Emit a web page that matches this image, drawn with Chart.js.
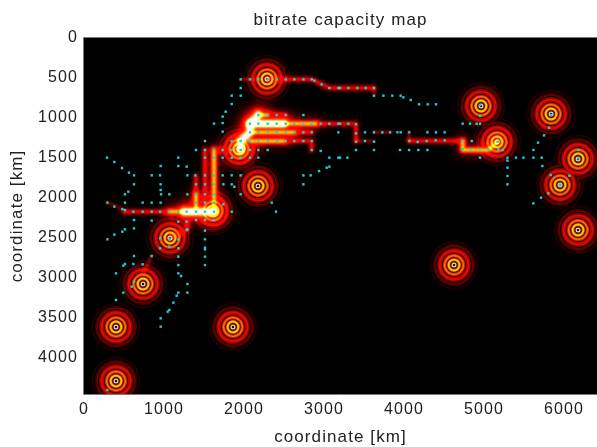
<!DOCTYPE html>
<html>
<head>
<meta charset="utf-8">
<title>bitrate capacity map</title>
<script src="https://cdn.jsdelivr.net/npm/chart.js@4"></script>
<style>
  html, body { margin: 0; padding: 0; background: #fff; }
  #wrap { width: 597px; height: 447px; }
</style>
</head>
<body>
<div id="wrap"><canvas id="map"></canvas></div>
<script>
const titleText = 'bitrate capacity map';
const axisLabel = 'coordinate [km]';
const xTicks = [0, 1000, 2000, 3000, 4000, 5000, 6000];
const yTicks = [0, 500, 1000, 1500, 2000, 2500, 3000, 3500, 4000];

// transmitter sites, km
const siteX = [2288, 4962, 5838, 5162, 6175, 5950, 6175, 4625, 2175, 1938, 1612, 1075, 738, 400, 1862, 400];
const siteY = [512, 850, 950, 1300, 1512, 1838, 2400, 2838, 1850, 1388, 2162, 2500, 3075, 3612, 3612, 4288];

// cable routes grouped by load, dim to hot
const routesDim = [
  [[288, 2058], [400, 2100], [512, 2171]],
  [[3625, 625], [3625, 721]],
  [[3625, 1179], [3850, 1179]],
  [[4063, 1179], [4063, 1288]],
  [[1958, 517], [2175, 517]],
  [[3400, 1288], [3625, 1288]],
  [[846, 2725], [733, 2950]]
];
const routesRed = [
  [[2296, 517], [2846, 517], [3067, 625], [3625, 625]],
  [[2900, 1071], [3400, 1071], [3400, 1288]],
  [[2629, 1179], [2846, 1179]],
  [[2500, 1288], [2846, 1288], [2846, 1400]],
  [[2296, 963], [2521, 963]],
  [[4063, 1288], [4733, 1288]],
  [[1512, 2171], [1512, 1400]],
  [[1400, 2171], [1400, 1729]],
  [[1625, 1400], [1958, 1400]],
  [[512, 2171], [1067, 2171]],
  [[1292, 2171], [1292, 2392], [1067, 2500]]
];
const routesWarm = [
  [[1067, 2171], [1400, 2171]],
  [[2179, 963], [2296, 963]],
  [[2075, 1179], [2629, 1179]],
  [[2075, 1288], [2500, 1288]],
  [[2179, 1071], [2900, 1071]],
  [[1625, 2171], [1625, 1400]],
  [[4733, 1288], [4733, 1400], [5054, 1400], [5179, 1288]],
  [[1400, 2171], [1400, 1950]]
];
const routesHot = [
  [[1250, 2171], [1625, 2171]],
  [[1958, 1400], [1958, 1288], [2075, 1179], [2075, 1071], [2179, 963]],
  [[2075, 1071], [2500, 1071]]
];

// network nodes, km
const nodes = [
  [1958,517],[2075,517],[2179,517],[2296,517],[2408,517],[2521,517],[2629,517],[2742,517],[2846,517],[2880,533],[2970,580],[3067,625],[3179,625],
  [1958,625],[1846,721],[1958,721],[1846,825],[1771,921],[1733,983],[1625,1071],[1733,1063],[1733,1171],
  [2179,963],[2296,963],[2408,963],[2521,963],[2742,963],
  [2075,1071],[2179,1071],[2296,1071],[2408,1071],[2521,1071],[2629,1071],[2742,1071],[2846,1071],[2958,1071],[3067,1071],[3179,1071],
  [2075,1179],[2179,1179],[2296,1179],[2408,1179],[2521,1179],[2629,1179],[2742,1179],[2846,1179],[3179,1179],
  [1512,1288],[1846,1288],[1958,1288],[2075,1288],[2179,1288],[2296,1288],[2408,1288],[2521,1288],[2629,1288],[2742,1288],[2846,1288],
  [1400,1400],[1512,1400],[1625,1400],[1733,1400],[1846,1400],[1958,1400],[2075,1400],[2179,1400],[2296,1400],[2846,1400],[2958,1412],
  [3067,1496],[3179,1496],[3067,1608],[3033,1621],[2938,1663],[2833,1717],[2742,1717],[2742,1829],
  [288,1496],[379,1550],[475,1625],[562,1683],[625,1717],[1179,1496],[1179,1600],[1283,1608],[958,1600],
  [1512,1496],[1625,1496],[1733,1496],[1846,1496],[1958,1496],[2075,1496],[2179,1496],
  [846,1717],[950,1717],[1292,1717],[1392,1717],[1512,1717],[1625,1717],[1733,1717],[1846,1717],[1958,1717],
  [625,1829],[958,1829],[1400,1829],[1512,1829],[1625,1829],[1742,1829],[1846,1829],[1879,1860],
  [512,1954],[554,1921],[958,1900],[963,1954],[1067,1954],[1292,1954],[1400,1954],[1512,1954],[1625,1954],[1958,1954],
  [292,2058],[379,2108],[512,2058],[733,2058],[846,2058],[958,2058],[1400,2058],[1512,2058],[1625,2058],[1742,2079],[2346,2058],
  [479,2138],[512,2150],[617,2171],[733,2171],[846,2171],[950,2171],[1067,2171],[1179,2171],[1283,2171],[1400,2171],[1512,2171],[1625,2171],[1846,2171],[2400,2171],
  [625,2275],[846,2283],[1283,2296],[1400,2275],[1512,2275],[1625,2275],[512,2392],[625,2379],[1292,2392],
  [292,2517],[379,2458],[479,2421],[1179,2296],[1283,2400],[1179,2517],[1067,2517],[950,2504],
  [1512,2408],[1512,2517],[1512,2621],[1512,2642],[1512,2733],[1512,2838],
  [950,2629],[1067,2608],[1179,2629],[846,2725],[625,2725],[492,2846],[512,2825],[617,2825],[733,2829],[400,2942],
  [1179,2733],[1179,2838],[1179,2942],[1213,2975],[1292,3075],[1292,3183],[1179,3183],[1158,3221],[1117,3308],[1067,3400],[1046,3421],[958,3504],[958,3608],
  [400,3275],[492,3183],[596,3108],[625,3046],[292,4400],
  [3200,625],[3304,625],[3417,625],[3521,625],[3625,625],[3625,721],[3742,721],[3854,721],[3958,721],[3992,742],[4083,775],[4188,829],[4296,829],[4400,829],
  [3200,1071],[3304,1071],[3400,1079],[4733,1071],[4825,1071],[4908,1071],[4950,1071],
  [3400,1192],[3512,1179],[3625,1179],[3729,1179],[3825,1179],[3917,1179],[3958,1179],[4063,1179],[4292,1179],[4400,1179],[4508,1179],
  [3400,1296],[3512,1288],[3625,1296],[4067,1288],[4171,1300],[4283,1288],[4396,1279],[4508,1279],[4733,1288],[4846,1288],[5179,1296],
  [3400,1400],[3625,1400],[3950,1400],[4063,1400],[4179,1400],[4292,1400],[4733,1388],[4833,1392],[4950,1392],[5054,1392],[5179,1392],[5233,1400],
  [3200,1496],[3292,1496],[4950,1496],[5292,1496],[5400,1496],[5492,1496],[5617,1496],[5721,1496],
  [5292,1533],[5729,1600],[5292,1621],[5292,1725],[5292,1829],[5833,1713],[6067,1721],[5804,1942],[5713,1996],[5617,2067],
  [5617,1400],[5675,1308],[5750,1217],[5813,1121],[4950,975],[4950,838],[5838,963],[6180,1400],[6180,1504],[5950,1838]
];

// coverage rings around a site, biggest painted first
const ringLook = [
  [25, '#0a0000'], [24, '#240000'], [22.6, '#040000'], [21, '#400000'], [19.6, '#680000'],
  [18, '#0c0000'], [17, '#800000'], [15.6, '#d80c00'], [13.4, '#b00000'], [12, '#380000'],
  [11, '#d83000'], [10, '#ff8000'], [9, '#d84000'], [8, '#680000'], [7, '#b83000'],
  [6.4, '#ffc800'], [5, '#f0b000'], [4.2, '#800c00'], [3.1, '#300000'], [2.5, '#dddddd'], [1.3, '#2a1010']
];

// additive strokes: [width, colour, blur], they sum up like the hot colormap
const dimLook = [[3.4, '#780000', 1.2]];
const redLook = [[7, '#600000', 1.6], [3.6, '#9c0000', 1]];
const warmLook = [[16, '#500000', 4], [8, '#800000', 1.4], [5, '#8f0000', 1], [3.6, '#007000', 1.2], [2.2, '#008f00', 1]];
const hotLook = [[26, '#500000', 6], [15, '#800000', 2.5], [11, '#7f0000', 1.4], [9, '#008000', 1.4], [7.4, '#007f00', 1], [6, '#0000ff', 1]];

const xMax = 6412, yMax = 4450;

const sites = siteX.map((x, i) => ({ x: x, y: siteY[i] }));

function routeDatasets(routes, look) {
  const out = [];
  look.forEach(s => {
    routes.forEach(r => {
      out.push({
        data: r.map(p => ({ x: p[0], y: p[1] })),
        showLine: true, tension: 0, pointRadius: 0, clip: 0,
        borderWidth: s[0], borderColor: s[1], borderJoinStyle: 'round', borderCapStyle: 'round',
        blur: s[2], additive: true
      });
    });
  });
  return out;
}

const layers = [];
ringLook.forEach(r => {
  layers.push({ data: sites, pointRadius: r[0], pointBackgroundColor: r[1], pointBorderWidth: 0, clip: 0, blur: 0.5 });
});
layers.push(...routeDatasets(routesDim, dimLook));
layers.push(...routeDatasets(routesRed, redLook));
layers.push(...routeDatasets(routesWarm, warmLook));
layers.push(...routeDatasets(routesHot, hotLook));
layers.push({
  data: nodes.map(p => ({ x: p[0], y: p[1] })),
  pointStyle: 'rect', pointRadius: 1.7, pointBackgroundColor: '#1ad2d6', pointBorderWidth: 0, clip: 0
});
// Chart.js paints the first dataset last
layers.reverse();

const heatLayers = {
  id: 'heatLayers',
  beforeDraw(chart) {
    const a = chart.chartArea, c = chart.ctx;
    c.save();
    c.fillStyle = '#000';
    c.fillRect(a.left, a.top, a.right - a.left, a.bottom - a.top);
    c.restore();
    // the labels in the reference sit wide apart
    c.letterSpacing = '1.1px';
  },
  beforeDatasetDraw(chart, args) {
    const ds = chart.data.datasets[args.index];
    chart.ctx.save();
    if (ds.blur) chart.ctx.filter = 'blur(' + ds.blur + 'px)';
    if (ds.additive) chart.ctx.globalCompositeOperation = 'lighter';
  },
  afterDatasetDraw(chart) {
    chart.ctx.restore();
  },
  afterDraw(chart) {
    const a = chart.chartArea, c = chart.ctx;
    c.save();
    c.strokeStyle = '#7a7a7a';
    c.lineWidth = 1;
    c.beginPath();
    c.moveTo(a.left - 0.5, a.bottom + 0.5);
    c.lineTo(a.left - 0.5, a.top - 0.5);
    c.lineTo(a.right, a.top - 0.5);
    c.moveTo(a.left - 0.5, a.bottom + 0.5);
    c.lineTo(a.right, a.bottom + 0.5);
    c.stroke();
    c.restore();
  }
};

const fontFamily = '"Liberation Sans", Arial, sans-serif';

new Chart(document.getElementById('map'), {
  type: 'scatter',
  data: { datasets: layers },
  plugins: [heatLayers],
  options: {
    responsive: true,
    maintainAspectRatio: false,
    animation: false,
    layout: { padding: 0, autoPadding: false },
    plugins: {
      legend: { display: false },
      tooltip: { enabled: false },
      title: {
        display: true, text: titleText, color: '#222', fullSize: false,
        font: { family: fontFamily, size: 17, weight: 'normal', lineHeight: 1.2 },
        padding: { top: 10, bottom: 7.6 }
      }
    },
    scales: {
      x: {
        type: 'linear', min: 0, max: xMax,
        afterBuildTicks(s) { s.ticks = xTicks.map(v => ({ value: v })); },
        afterFit(s) { s.height = 53; s.paddingLeft = 0; s.paddingRight = 0; },
        grid: { display: false, drawTicks: false, tickLength: 0 }, border: { display: false },
        ticks: { maxRotation: 0, autoSkip: false, color: '#222', padding: 6,
          font: { family: fontFamily, size: 16 }, callback: v => String(v) },
        title: { display: true, text: axisLabel, color: '#222', padding: 0,
          font: { family: fontFamily, size: 17, weight: 'normal', lineHeight: 1.1 } }
      },
      y: {
        type: 'linear', reverse: true, min: 0, max: yMax,
        afterBuildTicks(s) { s.ticks = yTicks.map(v => ({ value: v })); },
        afterFit(s) { s.width = 84; s.paddingTop = 0; s.paddingBottom = 0; },
        grid: { display: false, drawTicks: false, tickLength: 0 }, border: { display: false },
        ticks: { autoSkip: false, color: '#222', padding: 6,
          font: { family: fontFamily, size: 16 }, callback: v => String(v) },
        title: { display: true, text: axisLabel, color: '#222', padding: { top: 8, bottom: 0 },
          font: { family: fontFamily, size: 17, weight: 'normal', lineHeight: 1.1 } }
      }
    }
  }
});
</script>
</body>
</html>
